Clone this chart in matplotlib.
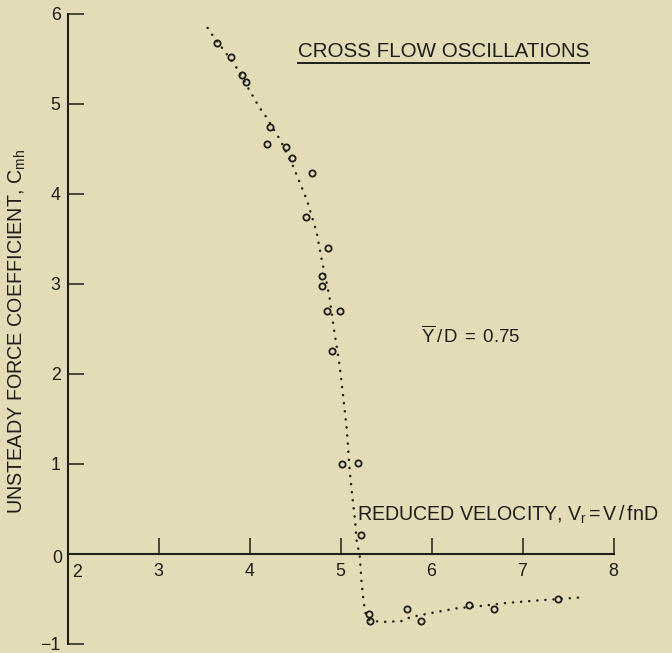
import matplotlib
matplotlib.use("Agg")
import matplotlib.pyplot as plt
from matplotlib.transforms import offset_copy
from matplotlib.lines import Line2D

# Measured points: reduced velocity vs unsteady force coefficient
vr_points = [3.64, 3.80, 3.92, 3.96, 4.23, 4.19, 4.40, 4.47, 4.69, 4.62, 4.86,
             4.80, 4.80, 4.85, 4.99, 4.91, 5.02, 5.19, 5.22,
             5.31, 5.32, 5.73, 5.88, 6.41, 6.69, 7.39]
cmh_points = [5.67, 5.52, 5.32, 5.24, 4.74, 4.55, 4.52, 4.39, 4.23, 3.74, 3.39,
              3.08, 2.97, 2.69, 2.69, 2.25, 0.99, 1.01, 0.21,
              -0.67, -0.75, -0.62, -0.75, -0.57, -0.62, -0.51]

# Faired curve through the data
vr_curve = [3.54, 3.62, 3.72, 3.85, 4.01, 4.10, 4.19, 4.34, 4.48, 4.63, 4.74,
            4.79, 4.84, 4.88, 4.93, 4.99, 5.03, 5.07, 5.10, 5.13, 5.16, 5.18,
            5.21, 5.23, 5.25, 5.27, 5.30, 5.34, 5.50, 5.69, 5.76, 5.95, 6.27,
            6.57, 6.82, 7.19, 7.62]
cmh_curve = [5.84, 5.72, 5.59, 5.41, 5.13, 4.97, 4.84, 4.59, 4.30, 3.93, 3.56,
             3.28, 3.05, 2.84, 2.48, 2.09, 1.74, 1.37, 0.93, 0.63, 0.37, 0.11,
             0.00, -0.30, -0.50, -0.65, -0.73, -0.75, -0.76, -0.75, -0.71, -0.67, -0.61,
             -0.58, -0.55, -0.52, -0.49]

x_ticks = [2, 3, 4, 5, 6, 7, 8]
x_ticklabels = ["", "3", "4", "5", "6", "7", "8"]
y_ticks = [-1, 0, 1, 2, 3, 4, 5, 6]
y_ticklabels = ["\u22121", "", "1", "2", "3", "4", "5", "6"]

BG = "#e3dcb6"
INK = "#1e1e1c"

plt.rcParams["font.family"] = ["Liberation Sans", "DejaVu Sans"]
plt.rcParams["mathtext.fontset"] = "custom"
plt.rcParams["mathtext.rm"] = "Liberation Sans"
plt.rcParams["mathtext.it"] = "Liberation Sans"
plt.rcParams["mathtext.bf"] = "Liberation Sans:bold"

fig = plt.figure(figsize=(6.72, 6.53), dpi=100, facecolor=BG)
W, H = 672, 653
x0, x8 = 67.5, 613.5
y6, ym1 = 13.5, 643.5
ax = fig.add_axes([x0 / W, 1 - ym1 / H, (x8 - x0) / W, (ym1 - y6) / H])
ax.set_facecolor(BG)
ax.set_xlim(2, 8)
ax.set_ylim(-1, 6)

for s in ("top", "right"):
    ax.spines[s].set_visible(False)
ax.spines["left"].set_bounds(-1, 6)
ax.spines["bottom"].set_position(("data", 0))
ax.spines["bottom"].set_bounds(2, 8)
for s in ("left", "bottom"):
    ax.spines[s].set_color(INK)
    ax.spines[s].set_linewidth(1.5)

ax.set_xticks(x_ticks, x_ticklabels)
ax.set_yticks(y_ticks, y_ticklabels)
ax.tick_params(axis="both", direction="in", length=11.5, width=1.1,
               color=INK, labelcolor=INK, labelsize=12.8)
ax.tick_params(axis="x", pad=6.5)
ax.tick_params(axis="y", pad=5)

# origin labels sit just off the corner
ax.text(2, 0, "2", transform=offset_copy(ax.transData, fig, 9.5, -19, units="dots"),
        ha="center", va="center", fontsize=12.8, color=INK)
ax.text(2, 0, "0", transform=offset_copy(ax.transData, fig, -10, -5, units="dots"),
        ha="center", va="center", fontsize=12.8, color=INK)

ax.plot(vr_curve, cmh_curve, color=INK, lw=1.8, linestyle=(0, (0.05, 3.2)),
        dash_capstyle="round", clip_on=False, zorder=2)
ax.plot(vr_points, cmh_points, linestyle="none", marker="o", ms=4.5,
        mfc="none", mec=INK, mew=1.3, clip_on=False, zorder=3)

title = ax.text(4.53, 5.58, "CROSS FLOW OSCILLATIONS", ha="left", va="center",
                fontsize=14.8, color=INK)
ax.text(5.89, 2.41, r"$\overline{\mathrm{Y}}\,/\,\mathrm{D}\;=\;0.75$", ha="left",
        va="center", fontsize=13.4, color=INK)
ax.text(5.18, 0.43, r"REDUCED VELOCITY, V$_\mathrm{r}$$\,$=$\,$V$\,$/$\,$fnD", ha="left",
        va="center", fontsize=14.1, color=INK, clip_on=False)
fig.text(17 / W, 1 - 331 / H, r"UNSTEADY FORCE COEFFICIENT, C$_\mathrm{mh}$",
         rotation=90, ha="center", va="center", fontsize=14.2, color=INK)

# underline the title
fig.canvas.draw()
bb = title.get_window_extent()
uy = bb.y0 - 2
fig.add_artist(Line2D([bb.x0 / W, bb.x1 / W], [uy / H, uy / H],
                      transform=fig.transFigure, color=INK, lw=1.4))

fig.savefig("out.png", dpi=100, facecolor=BG)
